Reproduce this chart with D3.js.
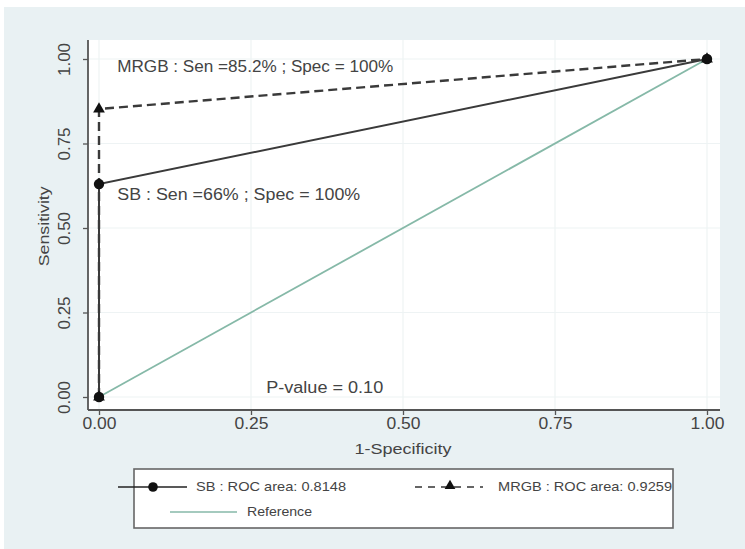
<!DOCTYPE html>
<html>
<head>
<meta charset="utf-8">
<script src="https://cdn.jsdelivr.net/npm/d3@7"></script>
<style>
  body { margin: 0; background: #fff; }
  text { font-family: "Liberation Sans", Arial, sans-serif; fill: #444; }
</style>
</head>
<body>
<script>
// data
var ticks = [0, 0.25, 0.5, 0.75, 1];
var sbFpr = [0, 0, 1];
var sbSen = [0, 0.63, 1];
var mrgbFpr = [0, 0, 1];
var mrgbSen = [0, 0.852, 1];
var refFpr = [0, 1];
var refSen = [0, 1];
var notes = [
  {x: 0.03, y: 0.975, text: "MRGB : Sen =85.2% ; Spec = 100%"},
  {x: 0.03, y: 0.595, text: "SB : Sen =66% ; Spec = 100%"},
  {x: 0.275, y: 0.025, text: "P-value = 0.10"}
];
var legendItems = ["SB : ROC area: 0.8148", "MRGB : ROC area: 0.9259", "Reference"];

var width = 745, height = 549;
var svg = d3.select("body").append("svg")
    .attr("width", width).attr("height", height);

// graph region + plot region
svg.append("rect").attr("x", 4).attr("y", 7)
   .attr("width", width - 4).attr("height", height - 7)
   .attr("fill", "#e9f1f3");
var plot = {left: 88, top: 40, right: 720, bottom: 410};
svg.append("rect").attr("x", plot.left).attr("y", plot.top)
   .attr("width", plot.right - plot.left).attr("height", plot.bottom - plot.top)
   .attr("fill", "#fff");

var x = d3.scaleLinear().domain([0, 1]).range([99, 707]);
var y = d3.scaleLinear().domain([0, 1]).range([397, 59]);

// grid
svg.selectAll(".vg").data(ticks).enter().append("line")
   .attr("x1", d => x(d)).attr("x2", d => x(d))
   .attr("y1", plot.top).attr("y2", plot.bottom)
   .attr("stroke", "#eef3f4").attr("stroke-width", 1.2);
svg.selectAll(".hg").data(ticks).enter().append("line")
   .attr("y1", d => y(d)).attr("y2", d => y(d))
   .attr("x1", plot.left).attr("x2", plot.right)
   .attr("stroke", "#eef3f4").attr("stroke-width", 1.2);

// axes
var fmt = d3.format(".2f");
var xAxis = d3.axisBottom(x).tickValues(ticks).tickFormat(fmt).tickSize(5).tickSizeOuter(0);
var yAxis = d3.axisLeft(y).tickValues(ticks).tickFormat(fmt).tickSize(5).tickSizeOuter(0);

var gx = svg.append("g").attr("transform", "translate(0," + plot.bottom + ")").call(xAxis);
gx.select(".domain").remove();
gx.append("line").attr("x1", plot.left).attr("x2", plot.right)
  .attr("stroke", "#555").attr("stroke-width", 1.8);
gx.selectAll(".tick line").attr("stroke", "#555").attr("stroke-width", 1.3);
gx.selectAll(".tick text").attr("font-size", 16).attr("fill", "#444")
  .attr("y", 8).attr("font-family", "Liberation Sans, Arial, sans-serif")
  .attr("textLength", 34).attr("lengthAdjust", "spacingAndGlyphs");

var gy = svg.append("g").attr("transform", "translate(" + plot.left + ",0)").call(yAxis);
gy.select(".domain").remove();
gy.append("line").attr("y1", plot.top).attr("y2", plot.bottom)
  .attr("stroke", "#555").attr("stroke-width", 1.8);
gy.selectAll(".tick line").attr("stroke", "#555").attr("stroke-width", 1.3);
gy.selectAll(".tick text").attr("font-size", 16).attr("fill", "#444")
  .attr("font-family", "Liberation Sans, Arial, sans-serif")
  .attr("x", null).attr("dy", null)
  .attr("transform", "translate(-22,0) rotate(-90)")
  .attr("text-anchor", "middle").attr("dominant-baseline", "middle")
  .attr("textLength", 33).attr("lengthAdjust", "spacingAndGlyphs");

svg.append("text").attr("x", x(0.5)).attr("y", 450)
   .attr("text-anchor", "middle").attr("dominant-baseline", "middle")
   .attr("font-size", 15.5).attr("textLength", 97).attr("lengthAdjust", "spacingAndGlyphs")
   .text("1-Specificity");
svg.append("text").attr("transform", "translate(45," + y(0.505) + ") rotate(-90)")
   .attr("text-anchor", "middle").attr("dominant-baseline", "middle")
   .attr("font-size", 15.5).attr("textLength", 80).attr("lengthAdjust", "spacingAndGlyphs")
   .text("Sensitivity");

// curves
var line = d3.line().x(d => x(d[0])).y(d => y(d[1]));
var ref = d3.zip(refFpr, refSen);
var sb = d3.zip(sbFpr, sbSen);
var mrgb = d3.zip(mrgbFpr, mrgbSen);

svg.append("path").attr("d", line(ref)).attr("fill", "none")
   .attr("stroke", "#86b9a8").attr("stroke-width", 1.8);
svg.append("path").attr("d", line(mrgb)).attr("fill", "none")
   .attr("stroke", "#3a3a3a").attr("stroke-width", 2.4).attr("stroke-dasharray", "9,5");
svg.append("path").attr("d", line(sb)).attr("fill", "none")
   .attr("stroke", "#3a3a3a").attr("stroke-width", 2);

var tri = d3.symbol().type(d3.symbolTriangle).size(60);
svg.selectAll(".tri").data(mrgb).enter().append("path")
   .attr("d", tri).attr("transform", d => "translate(" + x(d[0]) + "," + y(d[1]) + ")")
   .attr("fill", "#111");
svg.selectAll(".dot").data(sb).enter().append("circle")
   .attr("cx", d => x(d[0])).attr("cy", d => y(d[1])).attr("r", 5.2)
   .attr("fill", "#111");

// notes
var noteLen = [276, 243, 117];
svg.selectAll(".note").data(notes).enter().append("text")
   .attr("x", d => x(d.x)).attr("y", d => y(d.y))
   .attr("dominant-baseline", "middle")
   .attr("font-size", 16)
   .attr("textLength", (d, i) => noteLen[i]).attr("lengthAdjust", "spacingAndGlyphs")
   .text(d => d.text);

// legend
var lg = svg.append("g");
lg.append("rect").attr("x", 134).attr("y", 469).attr("width", 539).attr("height", 59)
  .attr("fill", "#fff").attr("stroke", "#666").attr("stroke-width", 1.6);
lg.append("line").attr("x1", 118).attr("x2", 187).attr("y1", 487).attr("y2", 487)
  .attr("stroke", "#222").attr("stroke-width", 1.5);
lg.append("circle").attr("cx", 153).attr("cy", 487).attr("r", 4.8).attr("fill", "#111");
lg.append("line").attr("x1", 415).attr("x2", 483).attr("y1", 487).attr("y2", 487)
  .attr("stroke", "#333").attr("stroke-width", 1.5).attr("stroke-dasharray", "7,6");
lg.append("path").attr("d", d3.symbol().type(d3.symbolTriangle).size(50))
  .attr("transform", "translate(450,486)").attr("fill", "#111");
lg.append("line").attr("x1", 170).attr("x2", 237).attr("y1", 512).attr("y2", 512)
  .attr("stroke", "#86b9a8").attr("stroke-width", 1.5);
var lx = [196, 498, 247], ly = [488, 488, 513], lw = [150, 174, 65];
lg.selectAll(".lt").data(legendItems).enter().append("text")
  .attr("x", (d, i) => lx[i]).attr("y", (d, i) => ly[i])
  .attr("dominant-baseline", "middle").attr("font-size", 13)
  .attr("textLength", (d, i) => lw[i]).attr("lengthAdjust", "spacingAndGlyphs")
  .text(d => d);
</script>
</body>
</html>
